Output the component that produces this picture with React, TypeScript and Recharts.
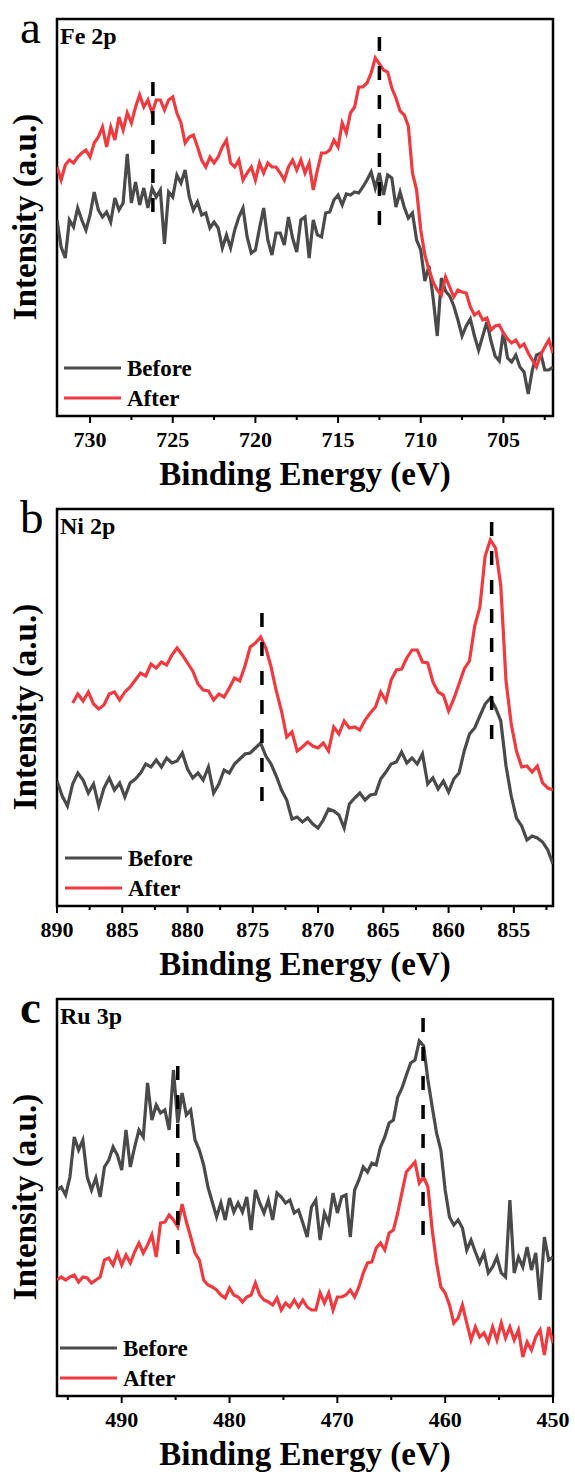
import React from 'react';
import { LineChart, Line, XAxis, YAxis, ReferenceLine, ReferenceArea, Legend } from 'recharts';

// Fe 2p
const feEnergy = [
  732, 731.75, 731.5, 731.25, 731, 730.75, 730.5, 730.25, 730, 729.75, 729.5, 729.25, 729, 728.75, 728.5, 728.25,
  728, 727.75, 727.5, 727.25, 727, 726.75, 726.5, 726.25, 726, 725.75, 725.5, 725.25, 725, 724.75, 724.5, 724.25,
  724, 723.75, 723.5, 723.25, 723, 722.75, 722.5, 722.25, 722, 721.75, 721.5, 721.25, 721, 720.75, 720.5, 720.25,
  720, 719.75, 719.5, 719.25, 719, 718.75, 718.5, 718.25, 718, 717.75, 717.5, 717.25, 717, 716.75, 716.5, 716.25,
  716, 715.75, 715.5, 715.25, 715, 714.75, 714.5, 714.25, 714, 713.75, 713.5, 713.25, 713, 712.75, 712.5, 712.25,
  712, 711.75, 711.5, 711.25, 711, 710.75, 710.5, 710.25, 710, 709.75, 709.5, 709.25, 709, 708.75, 708.5, 708.25,
  708, 707.75, 707.5, 707.25, 707, 706.75, 706.5, 706.25, 706, 705.75, 705.5, 705.25, 705, 704.75, 704.5, 704.25,
  704, 703.75, 703.5, 703.25, 703, 702.75, 702.5, 702.25, 702,
];
const feBefore = [
  196, 169, 158, 196, 189, 208, 196, 186, 201, 224, 206, 199, 204, 194, 218, 206, 213, 262, 213, 234,
  211, 228, 208, 228, 219, 226, 172, 224, 219, 241, 233, 246, 219, 206, 214, 201, 203, 188, 194, 188,
  168, 181, 168, 186, 199, 208, 179, 163, 166, 188, 208, 176, 161, 183, 183, 171, 199, 178, 164, 196,
  199, 158, 196, 181, 179, 203, 204, 216, 221, 211, 222, 221, 224, 223, 229, 236, 244, 228, 243, 221,
  241, 238, 209, 224, 209, 198, 203, 176, 166, 135, 150, 118, 80, 138, 125, 120, 110, 96, 80, 90,
  97, 80, 66, 80, 94, 75, 60, 55, 84, 58, 54, 61, 49, 44, 22, 46, 61, 63, 46, 46, 49,
];
const feAfter = [
  249, 236, 251, 256, 253, 259, 263, 266, 259, 273, 279, 289, 269, 289, 276, 299, 286, 303, 293, 309,
  321, 309, 316, 303, 316, 316, 306, 316, 319, 303, 293, 273, 279, 281, 269, 256, 249, 259, 253, 259,
  269, 276, 253, 249, 256, 236, 243, 249, 236, 253, 243, 253, 249, 249, 243, 236, 249, 256, 246, 256,
  243, 253, 226, 246, 263, 263, 266, 276, 269, 293, 283, 303, 309, 329, 329, 333, 343, 358, 352, 346,
  344, 328, 318, 305, 301, 290, 243, 226, 186, 161, 146, 134, 126, 121, 139, 129, 119, 126, 124, 123,
  109, 101, 104, 96, 98, 86, 90, 91, 83, 77, 73, 76, 69, 72, 63, 56, 49, 61, 69, 76, 63,
];

// Ni 2p
const niEnergy = [
  890, 889.6, 889.2, 888.8, 888.4, 888, 887.6, 887.2, 886.8, 886.4, 886, 885.6, 885.2, 884.8, 884.4, 884,
  883.6, 883.2, 882.8, 882.4, 882, 881.6, 881.2, 880.8, 880.4, 880, 879.6, 879.2, 878.8, 878.4, 878, 877.6,
  877.2, 876.8, 876.4, 876, 875.6, 875.2, 874.8, 874.4, 874, 873.6, 873.2, 872.8, 872.4, 872, 871.6, 871.2,
  870.8, 870.4, 870, 869.6, 869.2, 868.8, 868.4, 868, 867.6, 867.2, 866.8, 866.4, 866, 865.6, 865.2, 864.8,
  864.4, 864, 863.6, 863.2, 862.8, 862.4, 862, 861.6, 861.2, 860.8, 860.4, 860, 859.6, 859.2, 858.8, 858.4,
  858, 857.6, 857.2, 856.8, 856.4, 856, 855.6, 855.2, 854.8, 854.4, 854, 853.6, 853.2, 852.8, 852.4, 852,
];
const niBefore = [
  125, 110, 100, 122, 133, 126, 113, 122, 100, 118, 128, 116, 123, 109, 123, 127, 133, 142, 139, 146,
  139, 148, 143, 145, 153, 137, 128, 133, 126, 139, 113, 122, 136, 133, 142, 147, 152, 153, 158, 163,
  150, 142, 130, 116, 106, 87, 89, 84, 88, 82, 78, 86, 97, 95, 91, 78, 102, 108, 113, 106,
  111, 112, 127, 134, 142, 144, 154, 143, 148, 142, 152, 122, 128, 117, 125, 114, 127, 133, 155, 172,
  178, 190, 202, 208, 198, 185, 140, 110, 88, 80, 66, 70, 68, 64, 56, 42,
];
const niAfter = [
  null, null, null, 203, 212, 205, 214, 202, 197, 201, 212, 214, 206, 214, 219, 226, 233, 230, 242, 238,
  244, 241, 251, 258, 251, 243, 235, 222, 216, 215, 206, 212, 209, 218, 228, 225, 240, 259, 263, 269,
  258, 239, 215, 195, 169, 174, 155, 159, 164, 160, 158, 163, 155, 179, 172, 185, 178, 179, 176, 186,
  193, 199, 214, 205, 226, 236, 237, 248, 256, 256, 244, 243, 224, 214, 211, 195, 207, 222, 237, 245,
  280, 299, 350, 366, 358, 320, 225, 182, 155, 139, 140, 134, 140, 123, 118, 116,
];

// Ru 3p
const ruEnergy = [
  496, 495.6, 495.2, 494.8, 494.4, 494, 493.6, 493.2, 492.8, 492.4, 492, 491.6, 491.2, 490.8, 490.4, 490,
  489.6, 489.2, 488.8, 488.4, 488, 487.6, 487.2, 486.8, 486.4, 486, 485.6, 485.2, 484.8, 484.4, 484, 483.6,
  483.2, 482.8, 482.4, 482, 481.6, 481.2, 480.8, 480.4, 480, 479.6, 479.2, 478.8, 478.4, 478, 477.6, 477.2,
  476.8, 476.4, 476, 475.6, 475.2, 474.8, 474.4, 474, 473.6, 473.2, 472.8, 472.4, 472, 471.6, 471.2, 470.8,
  470.4, 470, 469.6, 469.2, 468.8, 468.4, 468, 467.6, 467.2, 466.8, 466.4, 466, 465.6, 465.2, 464.8, 464.4,
  464, 463.6, 463.2, 462.8, 462.4, 462, 461.6, 461.2, 460.8, 460.4, 460, 459.6, 459.2, 458.8, 458.4, 458,
  457.6, 457.2, 456.8, 456.4, 456, 455.6, 455.2, 454.8, 454.4, 454, 453.6, 453.2, 452.8, 452.4, 452, 451.6,
  451.2, 450.8, 450.4, 450,
];
const ruBefore = [
  206, 209, 201, 219, 259, 246, 256, 219, 206, 218, 199, 229, 236, 249, 241, 226, 266, 229, 249, 266,
  259, 313, 276, 291, 283, 286, 266, 326, 273, 303, 281, 286, 256, 246, 231, 209, 194, 179, 193, 176,
  198, 184, 193, 184, 199, 166, 206, 193, 183, 196, 176, 203, 199, 193, 196, 183, 186, 173, 159, 189,
  196, 156, 183, 173, 203, 183, 199, 201, 159, 206, 216, 229, 224, 233, 231, 249, 259, 273, 276, 299,
  308, 321, 333, 336, 355, 350, 316, 289, 263, 246, 206, 179, 171, 176, 168, 146, 156, 144, 133, 143,
  123, 129, 139, 123, 119, 196, 123, 139, 129, 149, 126, 143, 96, 159, 136, 139,
];
const ruAfter = [
  116, 119, 116, 119, 121, 114, 119, 118, 113, 116, 119, 136, 138, 131, 143, 131, 141, 133, 144, 153,
  143, 151, 161, 139, 173, 174, 181, 176, 169, 192, 174, 159, 143, 136, 116, 111, 109, 106, 101, 98,
  108, 101, 99, 94, 99, 101, 113, 101, 96, 94, 91, 98, 86, 93, 89, 96, 89, 96, 89, 86,
  86, 103, 93, 103, 86, 99, 99, 101, 106, 99, 109, 123, 133, 134, 148, 153, 146, 163, 166, 183,
  204, 224, 229, 234, 213, 219, 209, 166, 133, 109, 103, 91, 73, 78, 91, 73, 56, 69, 59, 63,
  54, 69, 56, 73, 58, 69, 56, 66, 39, 54, 46, 59, 66, 41, 69, 53,
];

// axis ticks
const feTicks = [730, 727.5, 725, 722.5, 720, 717.5, 715, 712.5, 710, 707.5, 705, 702.5];
const feLabels = [730, 725, 720, 715, 710, 705];
const niTicks = [890, 887.5, 885, 882.5, 880, 877.5, 875, 872.5, 870, 867.5, 865, 862.5, 860, 857.5, 855, 852.5];
const niLabels = [890, 885, 880, 875, 870, 865, 860, 855];
const ruTicks = [495, 490, 485, 480, 475, 470, 465, 460, 455, 450];
const ruLabels = [490, 480, 470, 460, 450];

// dashed peak markers: position, bottom, top
const fePeaks = [[726.2, 201, 334], [712.5, 186, 379]];
const niPeaks = [[874.3, 105, 293], [856.7, 161, 384]];
const ruPeaks = [[484.8, 138, 330], [462.05, 156, 378]];

const seriesOrder = ['Before', 'After'];

const SERIF = "'Liberation Serif', 'Times New Roman', serif";
const W = 575;
const H = 490;
const Y_MAX = 397;

const AxisTick = (props: any) => {
  const { x, y, payload, labels } = props;
  const major = labels.includes(payload.value);
  return (
    <g>
      <line x1={x} x2={x} y1={y} y2={y + (major ? 7 : 4)} stroke="#000" strokeWidth={2} />
      {major && (
        <text x={x} y={y + 31} textAnchor="middle" fontFamily={SERIF} fontWeight="bold" fontSize={22} fill="#000">
          {payload.value}
        </text>
      )}
    </g>
  );
};

const LegendBox = (props: any) => {
  const items = [...(props.payload || [])].sort(
    (a: any, b: any) => seriesOrder.indexOf(a.value) - seriesOrder.indexOf(b.value)
  );
  return (
    <svg width={170} height={64} style={{ display: 'block', overflow: 'visible' }}>
      {items.map((it: any, i: number) => (
        <g key={it.value}>
          <line x1={4} x2={61} y1={16 + i * 30} y2={16 + i * 30} stroke={it.color} strokeWidth={3} />
          <text x={67} y={24 + i * 30} fontFamily={SERIF} fontWeight="bold" fontSize={23} fill="#000">
            {it.value}
          </text>
        </g>
      ))}
    </svg>
  );
};

interface PanelProps {
  letter: string;
  letterBold?: boolean;
  element: string;
  energy: number[];
  before: (number | null)[];
  after: (number | null)[];
  domain: [number, number];
  ticks: number[];
  labels: number[];
  peaks: number[][];
  legendLeft: number;
}

const Panel: React.FC<PanelProps> = ({ letter, letterBold, element, energy, before, after, domain, ticks, labels, peaks, legendLeft }) => {
  const data = energy.map((e, i) => ({ e, before: before[i], after: after[i] }));
  return (
    <LineChart width={W} height={H} data={data} margin={{ top: 19, right: 22, bottom: 0, left: 57 }}>
      <XAxis
        type="number"
        dataKey="e"
        domain={domain}
        reversed
        allowDataOverflow
        ticks={ticks}
        interval={0}
        axisLine={false}
        tickLine={false}
        tickSize={0}
        tickMargin={0}
        height={74}
        tick={(p: any) => <AxisTick {...p} labels={labels} />}
      />
      <YAxis hide type="number" domain={[0, Y_MAX]} allowDataOverflow />
      <Line dataKey="before" name="Before" stroke="#4a4a4a" strokeWidth={3.2} dot={false} isAnimationActive={false} />
      <Line dataKey="after" name="After" stroke="#ef3b3f" strokeWidth={3.2} dot={false} isAnimationActive={false} />
      {peaks.map(([x, y1, y2]) => (
        <ReferenceLine
          key={x}
          segment={[{ x, y: y2 }, { x, y: y1 }]}
          stroke="#000"
          strokeWidth={3.5}
          strokeDasharray="14 15"
        />
      ))}
      <ReferenceArea x1={domain[0]} x2={domain[1]} y1={0} y2={Y_MAX} fill="none" stroke="#000" strokeWidth={2.5} />
      <Legend
        layout="vertical"
        align="center"
        verticalAlign="middle"
        wrapperStyle={{ left: legendLeft, top: 352, width: 170, height: 64 }}
        content={(p: any) => <LegendBox {...p} />}
      />
      <text x={20} y={43} fontFamily={SERIF} fontSize={47} fontWeight={letterBold ? 'bold' : 'normal'} fill="#000">
        {letter}
      </text>
      <text x={60} y={44} fontFamily={SERIF} fontSize={24} fontWeight="bold" fill="#000">
        {element}
      </text>
      <text
        transform="translate(36, 217) rotate(-90)"
        textAnchor="middle"
        fontFamily={SERIF}
        fontSize={33}
        fontWeight="bold"
        fill="#000"
      >
        Intensity (a.u.)
      </text>
      <text x={305} y={485} textAnchor="middle" fontFamily={SERIF} fontSize={33} fontWeight="bold" fill="#000">
        Binding Energy (eV)
      </text>
    </LineChart>
  );
};

export default function App() {
  return (
    <div style={{ position: 'absolute', left: 0, top: 0, width: W, height: 1475, background: '#fff' }}>
      <style>{'.recharts-surface { overflow: visible; } .recharts-wrapper { overflow: visible; }'}</style>
      <div style={{ position: 'absolute', left: 0, top: 0 }}>
        <Panel letter="a" element="Fe 2p" energy={feEnergy} before={feBefore} after={feAfter}
          domain={[702, 732]} ticks={feTicks} labels={feLabels} peaks={fePeaks} legendLeft={60} />
      </div>
      <div style={{ position: 'absolute', left: 0, top: 490 }}>
        <Panel letter="b" element="Ni 2p" energy={niEnergy} before={niBefore} after={niAfter}
          domain={[852, 890]} ticks={niTicks} labels={niLabels} peaks={niPeaks} legendLeft={61} />
      </div>
      <div style={{ position: 'absolute', left: 0, top: 980 }}>
        <Panel letter="c" letterBold element="Ru 3p" energy={ruEnergy} before={ruBefore} after={ruAfter}
          domain={[450, 496]} ticks={ruTicks} labels={ruLabels} peaks={ruPeaks} legendLeft={56} />
      </div>
    </div>
  );
}
